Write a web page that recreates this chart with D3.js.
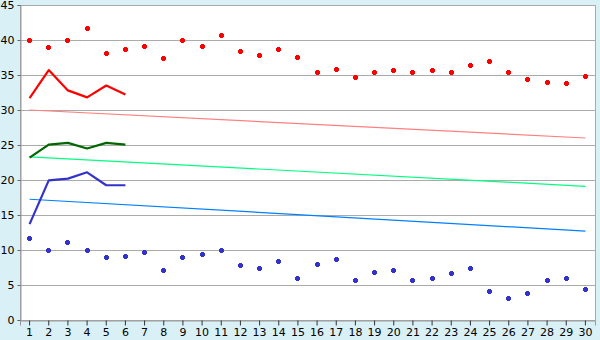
<!DOCTYPE html>
<html><head><meta charset="utf-8">
<script src="https://cdn.jsdelivr.net/npm/d3@7"></script>
<style>body{margin:0;background:#daf0f7}svg{display:block}</style>
</head><body>
<script>
const days = d3.range(1, 31);
const yTicks = [0,5,10,15,20,25,30,35,40,45];
const redPoints = [40.0,39.0,40.0,41.7,38.1,38.7,39.2,37.4,40.0,39.2,40.7,38.4,37.8,38.7,37.5,35.4,35.8,34.7,35.4,35.7,35.5,35.7,35.5,36.4,37.0,35.4,34.4,34.0,33.8,34.8];
const bluePoints = [11.7,10.0,11.2,10.0,9.0,9.2,9.7,7.2,9.0,9.4,10.0,7.8,7.4,8.4,6.0,8.0,8.7,5.7,6.8,7.2,5.7,6.0,6.7,7.4,4.2,3.1,3.8,5.7,6.0,4.4];
const lineDays = [1,2,3,4,5,6];
const redLine = [31.7,35.7,32.8,31.8,33.5,32.2];
const greenLine = [23.2,25.05,25.3,24.5,25.3,25.05];
const blueLine = [13.7,19.95,20.2,21.1,19.25,19.25];
const trendDays = [1,30];
const redTrend = [30.0,26.0];
const greenTrend = [23.3,19.1];
const blueTrend = [17.25,12.7];

const W=600,H=340, L=20,R=595,T=5,B=320;
const svg=d3.select("body").append("svg").attr("width",W).attr("height",H);
svg.append("rect").attr("width",W).attr("height",H).attr("fill","#daf0f7");
const x=d3.scaleBand().domain(days).range([L,R]);
const cx=d=>x(d)+x.bandwidth()/2;
const y=d3.scaleLinear().domain([0,45]).range([B,T]);
svg.append("rect").attr("x",L+0.5).attr("y",T+0.5).attr("width",R-L).attr("height",B-T).attr("fill","#fff").attr("stroke","#aaa").attr("shape-rendering","crispEdges");
svg.append("g").selectAll("line").data(yTicks.slice(1)).join("line")
 .attr("x1",L).attr("x2",R).attr("y1",d=>y(d)+0.5).attr("y2",d=>y(d)+0.5).attr("stroke","#aaa").attr("stroke-width",1).attr("shape-rendering","crispEdges");
const ya=svg.append("g").attr("transform",`translate(${L+0.5},0)`).call(d3.axisLeft(y).tickValues(yTicks).tickSize(3).tickPadding(3));
ya.select(".domain").attr("stroke","#999");
ya.selectAll(".tick line").attr("stroke","#666");
ya.selectAll("text").attr("font-family","DejaVu Sans, Verdana").attr("font-size",11).attr("fill","#000");
const xa=svg.append("g").attr("transform",`translate(0,${B+0.5})`).call(d3.axisBottom(x).tickSize(5).tickPadding(3));
xa.select(".domain").attr("stroke","#999");
xa.selectAll(".tick line").attr("stroke","#333");
xa.selectAll("text").attr("font-family","DejaVu Sans, Verdana").attr("font-size",11).attr("fill","#000");

const line=d3.line().x(d=>cx(d[0])).y(d=>y(d[1]));
function trend(vals,col){svg.append("path").attr("d",line(trendDays.map((d,i)=>[d,vals[i]]))).attr("fill","none").attr("stroke",col).attr("stroke-width",1.2);}
trend(redTrend,"#ff8080");trend(greenTrend,"#00ff80");trend(blueTrend,"#0080ff");
function pl(vals,col){svg.append("path").attr("d",line(lineDays.map((d,i)=>[d,vals[i]]))).attr("fill","none").attr("stroke",col).attr("stroke-width",2.2).attr("stroke-linejoin","round");}
pl(redLine,"#ff0000");pl(greenLine,"#006600");pl(blueLine,"#3333cc");
const mk="M-1.5,-2.5H1.5V-1.5H2.5V1.5H1.5V2.5H-1.5V1.5H-2.5V-1.5H-1.5Z";
svg.append("g").attr("shape-rendering","crispEdges").selectAll("path").data(redPoints).join("path").attr("d",mk)
 .attr("transform",(v,i)=>`translate(${Math.floor(cx(days[i]))+0.5},${Math.round(y(v))+0.5})`).attr("fill","#ff0000");
svg.append("g").attr("shape-rendering","crispEdges").selectAll("path").data(bluePoints).join("path").attr("d",mk)
 .attr("transform",(v,i)=>`translate(${Math.floor(cx(days[i]))+0.5},${Math.round(y(v))+0.5})`).attr("fill","#3333cc");
</script>
</body></html>
